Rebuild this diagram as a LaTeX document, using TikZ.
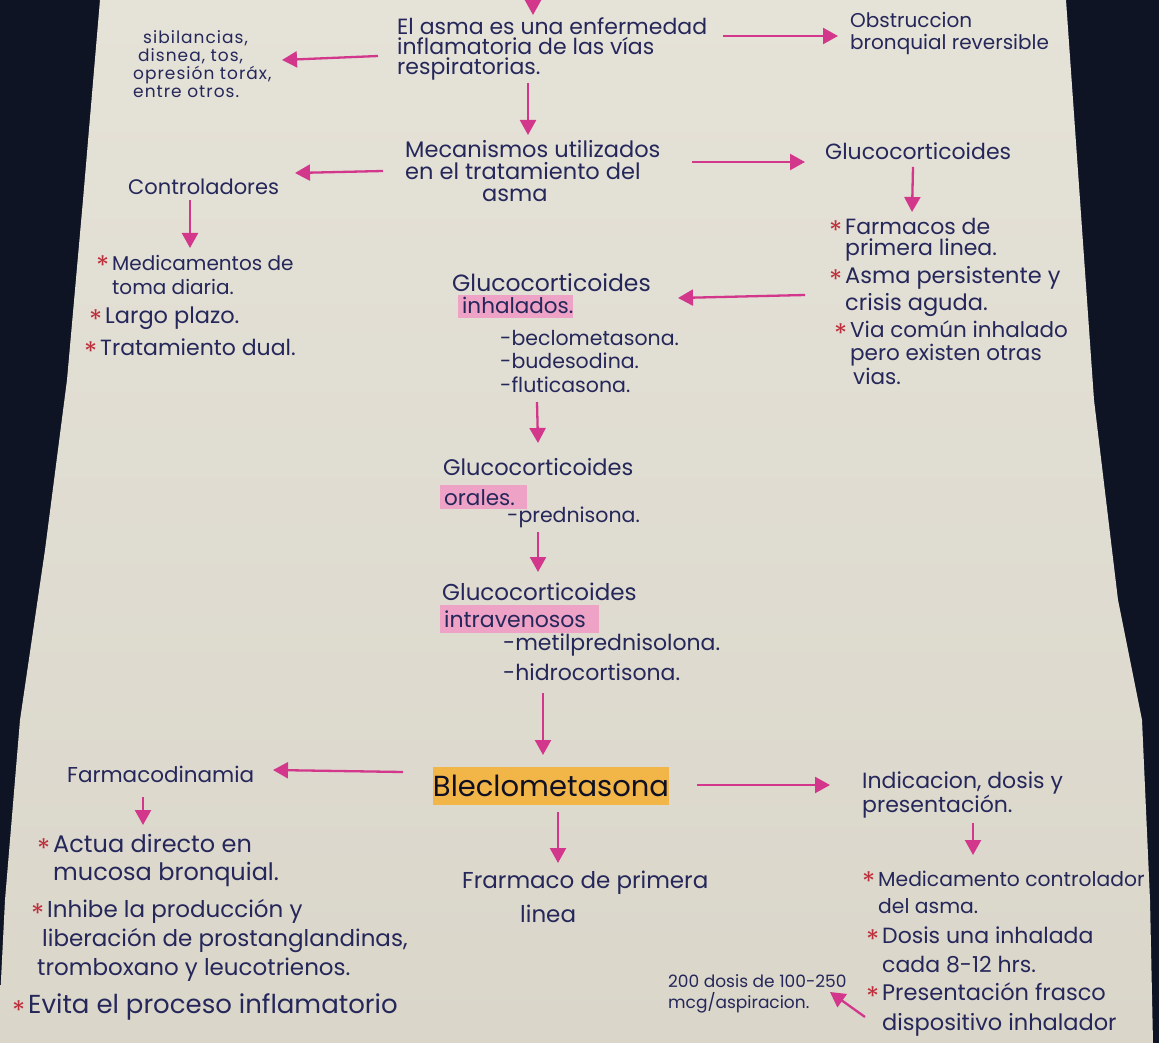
\documentclass[tikz,border=0pt]{standalone}
\usepackage{fontspec}
\setmainfont{Poppins}
\usetikzlibrary{arrows.meta}
\definecolor{darkbg}{HTML}{0E1424}
\definecolor{paperT}{HTML}{E5E2D8}
\definecolor{paperB}{HTML}{DAD6CA}
\definecolor{ink}{HTML}{25275A}
\definecolor{pinkarr}{HTML}{D2378B}
\definecolor{astred}{HTML}{BE2F3C}
\definecolor{hlpink}{HTML}{EEA2C6}
\definecolor{hlorange}{HTML}{F2B548}
\newcommand\blk[2]{\vtop{\baselineskip=#1pt\lineskiplimit=-50pt\lineskip=0pt\halign{##\hfil\cr#2\crcr}}}
\newcommand\rs{\llap{{\color{astred}\raisebox{-0.28em}{\fontsize{27}{27}\selectfont *}}\hskip3pt}}
\begin{document}
\begin{tikzpicture}[x=1pt,y=-1pt,
  txt/.style={inner sep=0pt, anchor=base west, text=ink, font=\fontsize{21}{22}\selectfont},
  small/.style={font=\fontsize{#1}{#1}\selectfont},
  arr/.style={draw=pinkarr, line width=2.3pt, -{Triangle[length=15pt,width=16pt]}}]
\useasboundingbox (0,0) rectangle (1159,1043);
\fill[darkbg] (0,0) rectangle (1159,1043);
\shade[top color=paperT,bottom color=paperB] (100,0) -- (1066,0) -- (1080,200) -- (1094,400) -- (1118,600) -- (1142,720) -- (1150,900) -- (1153,1043) -- (0,1043) -- (0,1000) -- (5,900) -- (20,720) -- (45,550) -- (67,380) -- (83,200) -- cycle;

% highlights
\fill[hlpink] (458,295) rectangle (573,318);
\fill[hlpink] (440,485) rectangle (527,509);
\fill[hlpink] (440,605) rectangle (599,633);

% text nodes
\node[txt, font=\fontsize{17}{17}\selectfont\addfontfeatures{LetterSpace=6}] (sint) at (143,44) {\blk{18}{sibilancias,\cr \hskip-5pt disnea, tos,\cr \hskip-10pt opresión toráx,\cr \hskip-10pt entre otros.}};
\node[txt, small=22] (asma) at (397,35) {\blk{20}{El asma es una enfermedad\cr inflamatoria de las vías\cr respiratorias.}};
\node[txt, small=20] (obstr) at (850,28) {\blk{22}{Obstruccion\cr bronquial reversible}};
\node[txt, small=22.5] (mecan) at (405,158) {\blk{22}{Mecanismos utilizados\cr en el tratamiento del\cr \hskip77pt asma}};
\node[txt] (ctrl) at (128,195) {Controladores};
\node[txt, small=22] (gc) at (825,160) {Glucocorticoides};
\node[txt, small=22] (rl1) at (845,234) {\blk{21}{\rs Farmacos de\cr primera linea.}};
\node[txt, small=22.5] (rl2) at (845,283) {\blk{27}{\rs Asma persistente y\cr crisis aguda.}};
\node[txt, small=21.5] (rl3) at (850,337) {\blk{23.5}{\rs Via común inhalado\cr pero existen otras\cr \hskip3pt vias.}};
\node[txt, small=20] (cl1) at (112,270) {\blk{24.5}{\rs Medicamentos de\cr toma diaria.}};
\node[txt, small=22.5] (cl2) at (105,323) {\rs Largo plazo.};
\node[txt, small=22] (cl3) at (100,355) {\rs Tratamiento dual.};
\node[txt, small=23.5] (gi1) at (452,291) {Glucocorticoides};
\node[txt, small=21.5] (gi2) at (462,313) {inhalados.};
\node[txt, small=20.5] (gi3) at (500,345) {\blk{23.5}{-beclometasona.\cr -budesodina.\cr -fluticasona.}};
\node[txt, small=22.5] (go1) at (443,475) {Glucocorticoides};
\node[txt, small=21.5] (go2) at (444,505) {orales.};
\node[txt, small=20.5] (go3) at (507,522) {-prednisona.};
\node[txt, small=23] (giv1) at (442,600) {Glucocorticoides};
\node[txt, small=22] (giv2) at (444,627) {intravenosos};
\node[txt, small=22] (giv3) at (503,650) {\blk{30}{-metilprednisolona.\cr -hidrocortisona.}};
\node[fill=hlorange, minimum width=232pt, minimum height=38pt, inner sep=0pt, text height=21pt, text depth=0pt, text=ink!40!black, font=\fontsize{29}{30}\selectfont] (bec) at (551,786) {Bleclometasona};
\node[txt, small=21.5] (fd) at (67,782) {Farmacodinamia};
\node[txt, small=24] (fdl1) at (53,852) {\blk{28}{\rs Actua directo en\cr mucosa bronquial.}};
\node[txt, small=23] (fdl2) at (47,917) {\blk{29}{\rs Inhibe la producción y\cr \hskip-5pt liberación de prostanglandinas,\cr \hskip-10pt tromboxano y leucotrienos.}};
\node[txt, small=26] (fdl3) at (28,1013) {\rs Evita el proceso inflamatorio};
\node[txt, small=23] (fpl) at (462,888) {\blk{34}{Frarmaco de primera\cr \hskip58pt linea}};
\node[txt, small=17] (dos) at (668,987) {\blk{21}{200 dosis de 100-250\cr mcg/aspiracion.}};
\node[txt, small=22] (ind) at (862,788) {\blk{24}{Indicacion, dosis y\cr presentación.}};
\node[txt, small=20.3] (rb1) at (878,886) {\blk{27.5}{\rs Medicamento controlador\cr del asma.}};
\node[txt, small=22] (rb2) at (882,943) {\blk{29}{\rs Dosis una inhalada\cr cada 8-12 hrs.}};
\node[txt, small=22.5] (rb3) at (882,1000) {\blk{30}{\rs Presentación frasco\cr dispositivo inhalador}};

% arrow end points
\coordinate (a0s) at (533,-10); \coordinate (a0e) at (533,15);
\coordinate (a1s) at (378,56);  \coordinate (a1e) at (282,60);
\coordinate (a2s) at (723,36);  \coordinate (a2e) at (838,36);
\coordinate (a3s) at (528,83);  \coordinate (a3e) at (528,135);
\coordinate (a4s) at (383,171); \coordinate (a4e) at (295,173);
\coordinate (a5s) at (692,162); \coordinate (a5e) at (805,162);
\coordinate (a6s) at (913,167); \coordinate (a6e) at (912,212);
\coordinate (a7s) at (190,200); \coordinate (a7e) at (190,248);
\coordinate (a8s) at (805,295); \coordinate (a8e) at (678,298);
\coordinate (a9s) at (537,402); \coordinate (a9e) at (538,443);
\coordinate (a10s) at (538,532); \coordinate (a10e) at (538,572);
\coordinate (a11s) at (543,693); \coordinate (a11e) at (543,755);
\coordinate (a12s) at (403,772); \coordinate (a12e) at (273,770);
\coordinate (a13s) at (143,797); \coordinate (a13e) at (143,825);
\coordinate (a14s) at (697,785); \coordinate (a14e) at (830,785);
\coordinate (a15s) at (973,823); \coordinate (a15e) at (973,855);
\coordinate (a16s) at (558,812); \coordinate (a16e) at (558,863);
\coordinate (a17s) at (865,1017); \coordinate (a17e) at (830,992);
\foreach \i in {0,...,17} { \draw[arr] (a\i s) -- (a\i e); }
\end{tikzpicture}
\end{document}
